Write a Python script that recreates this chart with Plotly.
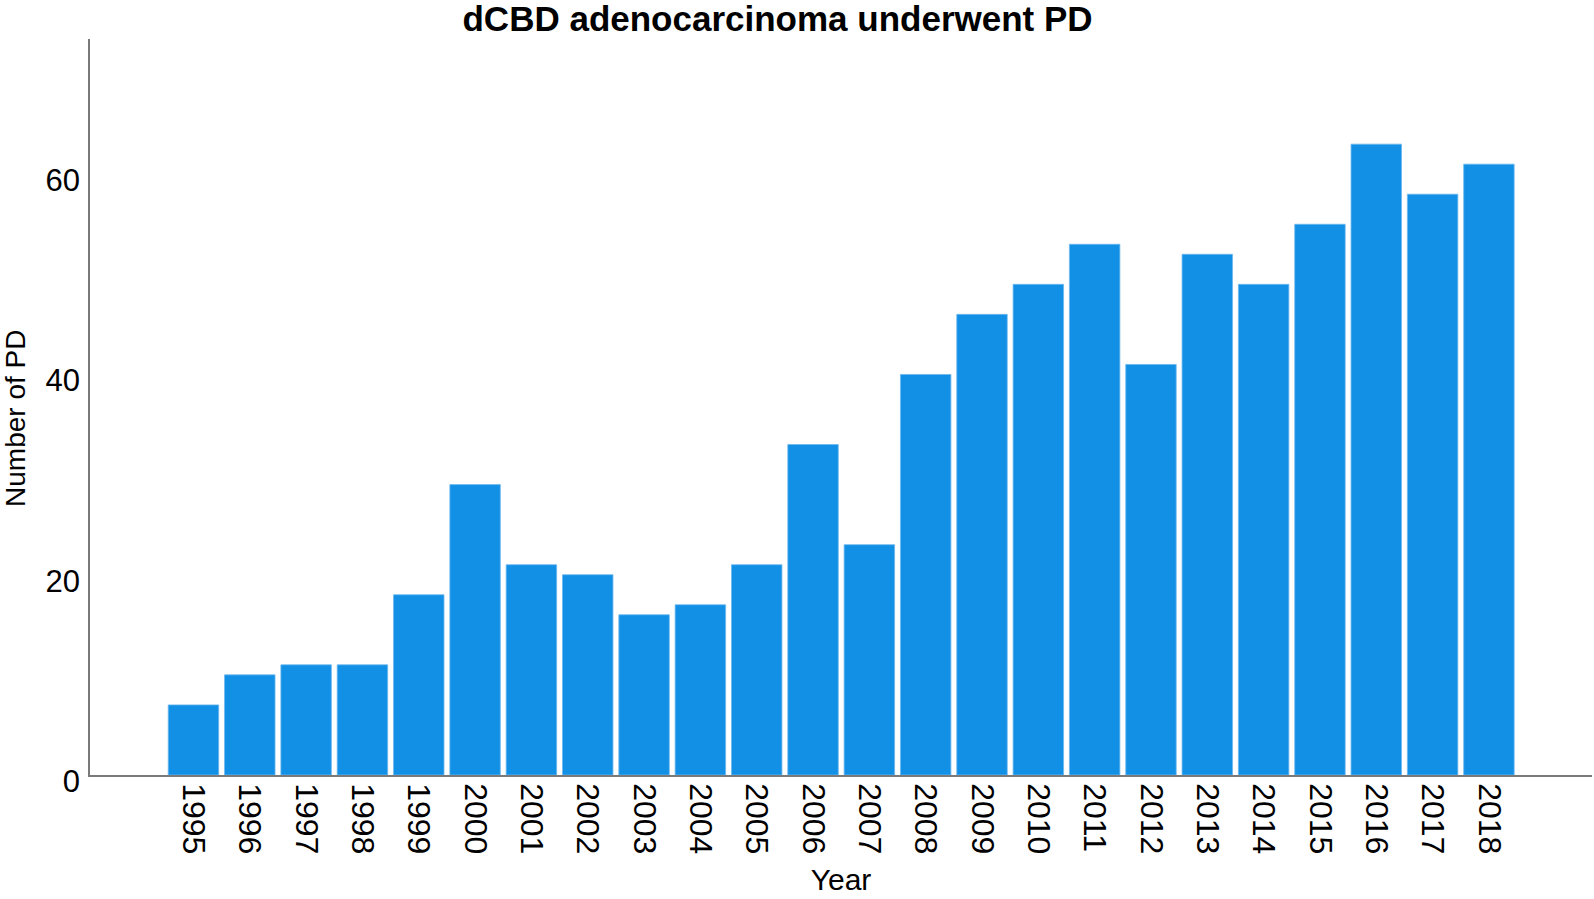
import plotly.graph_objects as go

years = ['1995', '1996', '1997', '1998', '1999', '2000', '2001', '2002', '2003', '2004',
         '2005', '2006', '2007', '2008', '2009', '2010', '2011', '2012', '2013', '2014',
         '2015', '2016', '2017', '2018']
num_pd = [7, 10, 11, 11, 18, 29, 21, 20, 16, 17,
          21, 33, 23, 40, 46, 49, 53, 41, 52, 49,
          55, 63, 58, 61]
y_ticks = [0, 20, 40, 60]

bar_color = '#1190E6'
axis_color = '#7a7a7a'
font_family = 'Liberation Sans, Arial, sans-serif'

fig = go.Figure(go.Bar(
    x=years, y=num_pd,
    marker=dict(color=bar_color, line=dict(color='#6cb8ef', width=0.8)),
))

fig.update_layout(
    width=1594, height=899,
    margin=dict(l=90, r=2, t=39, b=124, autoexpand=False),
    plot_bgcolor='white', paper_bgcolor='white',
    bargap=0.104,
    showlegend=False,
    font=dict(family=font_family, color='black'),
    title=dict(text='<b>dCBD adenocarcinoma underwent PD</b>',
               x=0.4878, xanchor='center', y=0.979, yanchor='middle',
               automargin=False,
               font=dict(size=35, color='black')),
)

fig.update_xaxes(
    type='category', range=[-1.837, 24.83], automargin=False,
    showline=True, linecolor=axis_color, linewidth=1.5,
    showgrid=False, ticks='', tickangle=90,
    tickfont=dict(size=32), layer='below traces',
    title=dict(text='Year', font=dict(size=30), standoff=16),
)
fig.update_yaxes(
    range=[0, 73.5], tickvals=y_ticks, automargin=False,
    showline=True, linecolor=axis_color, linewidth=1.5,
    showgrid=False, zeroline=False, ticks='',
    tickfont=dict(size=31), ticklabelstandoff=2, ticklabelshift=6,
)

# y title placed as annotation, it sits a bit below the plot centre in the original
fig.add_annotation(
    text='Number of PD', textangle=-90, showarrow=False,
    xref='paper', yref='paper', x=-0.05, y=0.485,
    xanchor='center', yanchor='middle',
    font=dict(size=28, color='black'),
)

# drop the default 8px body margin so the figure sits at the window corner
fig.write_html("out.html", config={'displayModeBar': False},
               post_script="document.body.style.margin='0';")
